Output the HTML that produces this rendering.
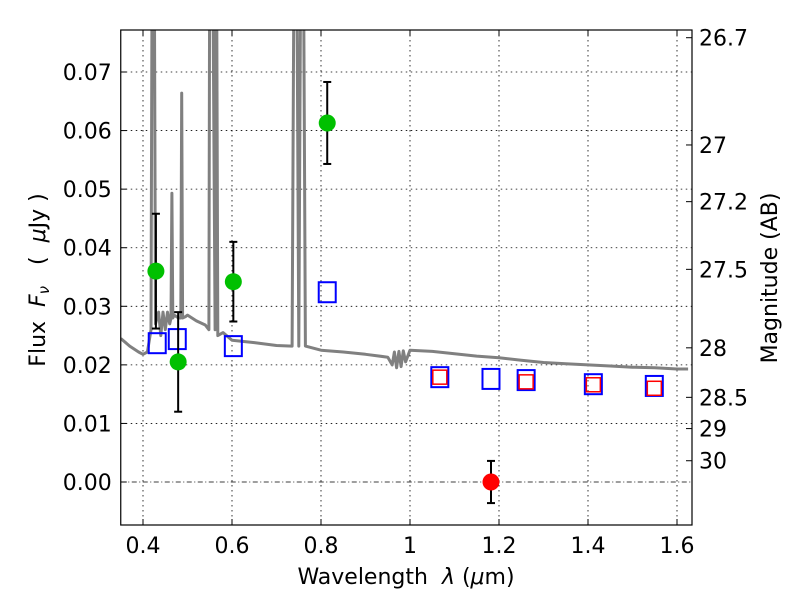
<!DOCTYPE html>
<html><head><meta charset="utf-8"><style>
html,body{margin:0;padding:0;background:#fff;}
svg text{font-family:"DejaVu Sans","Liberation Sans",sans-serif;white-space:pre;}
</style></head><body>
<svg id="chart" width="800" height="600" viewBox="0 0 800 600" xmlns="http://www.w3.org/2000/svg"></svg>
<script>
const xTicks=[0.4,0.6,0.8,1.0,1.2,1.4,1.6];
const xTickLabels=["0.4","0.6","0.8","1","1.2","1.4","1.6"];
const yTicks=[0,0.01,0.02,0.03,0.04,0.05,0.06,0.07];
const yTickLabels=["0.00","0.01","0.02","0.03","0.04","0.05","0.06","0.07"];
const magTicks=[26.7,27,27.2,27.5,28,28.5,29,30];
const magTickLabels=["26.7","27","27.2","27.5","28","28.5","29","30"];
// photometry (green detections)
const greenX=[0.429,0.479,0.603,0.814];
const greenY=[0.0360,0.0205,0.0342,0.0613];
const greenErr=[0.0098,0.0085,0.0068,0.0070];
const redX=[1.182];
const redY=[0.0];
const redErr=[0.0036];
// model fluxes
const blueX=[0.432,0.477,0.603,0.814,1.067,1.182,1.261,1.412,1.549];
const blueY=[0.0237,0.0244,0.0232,0.0324,0.0179,0.0176,0.0174,0.0167,0.0164];
const redSqX=[1.067,1.261,1.412,1.549];
const redSqY=[0.0179,0.0171,0.0166,0.0160];
// spectrum
const specX=[0.35,0.37,0.39,0.40,0.41,0.418,0.421,0.423,0.425,0.428,0.435,0.44,0.445,0.45,0.455,0.46,0.463,0.465,0.467,0.47,0.48,0.485,0.487,0.489,0.495,0.50,0.52,0.54,0.548,0.550,0.552,0.554,0.556,0.562,0.565,0.568,0.58,0.60,0.65,0.70,0.735,0.740,0.745,0.750,0.755,0.760,0.765,0.80,0.85,0.90,0.95,0.96,0.965,0.97,0.975,0.98,0.985,0.99,1.0,1.05,1.1,1.15,1.2,1.25,1.3,1.35,1.4,1.45,1.5,1.55,1.6,1.625];
const specY=[0.0245,0.0232,0.0222,0.0218,0.0222,0.026,0.1,0.1,0.1,0.027,0.029,0.025,0.029,0.026,0.029,0.027,0.028,0.0493,0.028,0.0285,0.028,0.028,0.0664,0.028,0.0282,0.0285,0.0275,0.0268,0.026,0.1,0.1,0.1,0.1,0.026,0.1,0.025,0.0255,0.0242,0.0238,0.0233,0.0232,0.1,0.1,0.0232,0.1,0.1,0.0232,0.0225,0.0222,0.0218,0.0213,0.0200,0.0222,0.0195,0.0223,0.0197,0.0224,0.0205,0.0225,0.0223,0.0219,0.0215,0.0212,0.0208,0.0204,0.0202,0.0200,0.0198,0.0196,0.0195,0.0193,0.0193];

const L=120.75,R=692,T=30,B=525;
const X=v=>L+(v-0.35)*445;
const Y=v=>482-v*5857;
const magToFlux=m=>Math.pow(10,-0.4*(m-23.9));
const svg=document.getElementById('chart');
const NS='http://www.w3.org/2000/svg';
function mk(tag,attrs,parent){const e=document.createElementNS(NS,tag);for(const k in attrs)e.setAttribute(k,attrs[k]);(parent||svg).appendChild(e);return e;}
const clip=mk('clipPath',{id:'pc'});mk('rect',{x:L,y:T,width:R-L,height:B-T},clip);

// grid
const grid=mk('g',{});


xTicks.forEach(v=>mk('line',{x1:X(v),x2:X(v),y1:T,y2:B,stroke:'#000','stroke-width':0.8,'stroke-dasharray':'1.5,3.5'},grid));
yTicks.forEach(v=>{if(v!==0)mk('line',{x1:L,x2:R,y1:Y(v),y2:Y(v),stroke:'#000','stroke-width':0.8,'stroke-dasharray':'1.5,3.5'},grid);});
const zl=mk('line',{x1:L,x2:R,y1:Y(0),y2:Y(0),stroke:'#000','stroke-width':0.8,'stroke-dasharray':'5,2.5,1,2.5'});



// spectrum
const g=mk('g',{'clip-path':'url(#pc)'});
let d='';specX.forEach((v,i)=>{d+=(i?'L':'M')+X(v).toFixed(1)+','+Y(specY[i]).toFixed(1);});
const sp=mk('path',{d:d,fill:'none',stroke:'#808080','stroke-width':3,'stroke-linejoin':'round'},g);



// blue squares
blueX.forEach((v,i)=>{const r=mk('rect',{x:X(v)-8.5,y:Y(blueY[i])-10,width:17,height:20,fill:'none',stroke:'#0000ff','stroke-width':2});

});
redSqX.forEach((v,i)=>{const r=mk('rect',{x:X(v)-7,y:Y(redSqY[i])-7,width:14,height:14,fill:'none',stroke:'#ff0000','stroke-width':1.5});

});

// error bars + points
function pts(xs,ys,es,color,name){xs.forEach((v,i)=>{const gg=mk('g',{});


const x=X(v),y1=Y(ys[i]+es[i]),y2=Y(ys[i]-es[i]);
mk('line',{x1:x,x2:x,y1:y1,y2:y2,stroke:'#000','stroke-width':2},gg);
mk('line',{x1:x-4,x2:x+4,y1:y1,y2:y1,stroke:'#000','stroke-width':2},gg);
mk('line',{x1:x-4,x2:x+4,y1:y2,y2:y2,stroke:'#000','stroke-width':2},gg);
mk('circle',{cx:x,cy:Y(ys[i]),r:8.5,fill:color},gg);});}
pts(greenX,greenY,greenErr,'#00c000','detection-point');
pts(redX,redY,redErr,'#ff0000','non-detection-point');

// axes frame
const fr=mk('rect',{x:L,y:T,width:R-L,height:B-T,fill:'none',stroke:'#000','stroke-width':1.2});



// ticks & labels
xTicks.forEach((v,i)=>{mk('line',{x1:X(v),x2:X(v),y1:B,y2:B-6,stroke:'#000'});mk('line',{x1:X(v),x2:X(v),y1:T,y2:T+6,stroke:'#000'});
const t=mk('text',{x:X(v),y:B+28,'text-anchor':'middle','font-size':22});t.textContent=xTickLabels[i];

});
yTicks.forEach((v,i)=>{mk('line',{x1:L,x2:L+6,y1:Y(v),y2:Y(v),stroke:'#000'});
const t=mk('text',{x:L-9,y:Y(v)+8,'text-anchor':'end','font-size':22});t.textContent=yTickLabels[i];

});
magTicks.forEach((m,i)=>{const y=Y(magToFlux(m));mk('line',{x1:R,x2:R-6,y1:y,y2:y,stroke:'#000'});
const t=mk('text',{x:R+7,y:y+8,'font-size':22});t.textContent=magTickLabels[i];

});

// axis titles
const xt=mk('text',{x:406,y:584,'text-anchor':'middle','font-size':22});
xt.innerHTML='Wavelength  <tspan font-style="italic">λ</tspan> (<tspan font-style="italic">μ</tspan>m)';


const yt=mk('text',{x:0,y:0,'text-anchor':'middle','font-size':22,transform:'translate(45,280) rotate(-90)'});
yt.innerHTML='Flux  <tspan font-style="italic">F<tspan font-size="15" dy="4">ν</tspan></tspan><tspan dy="-4">   (  </tspan><tspan font-style="italic">μ</tspan>Jy )';


const rt=mk('text',{x:0,y:0,'text-anchor':'middle','font-size':22,transform:'translate(777,278) rotate(-90)'});
rt.textContent='Magnitude (AB)';


</script>
</body></html>
